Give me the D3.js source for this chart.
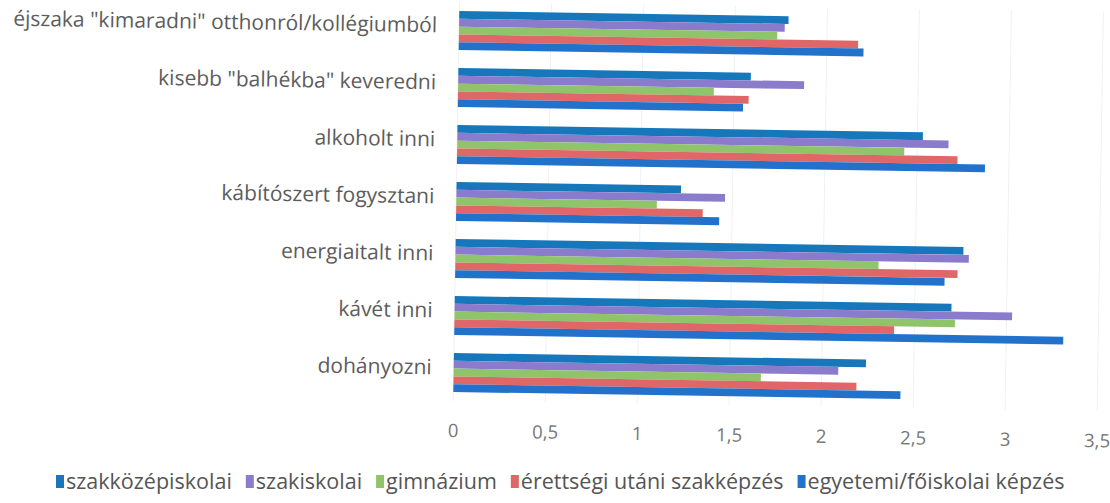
<!DOCTYPE html>
<html>
<head>
<meta charset="utf-8">
<script src="https://cdn.jsdelivr.net/npm/d3@7"></script>
<style>
  html, body { margin: 0; padding: 0; background: #ffffff; }
  svg { display: block; }
</style>
</head>
<body>
<svg id="chart" width="1110" height="503"></svg>
<script>
// ---- data ----
const categories = [
  'éjszaka "kimaradni" otthonról/kollégiumból',
  'kisebb "balhékba" keveredni',
  'alkoholt inni',
  'kábítószert fogysztani',
  'energiaitalt inni',
  'kávét inni',
  'dohányozni'
];
const seriesNames = [
  'szakközépiskolai',
  'szakiskolai',
  'gimnázium',
  'érettségi utáni szakképzés',
  'egyetemi/főiskolai képzés'
];
const szakkozepiskolai = [1.79, 1.59, 2.53, 1.22, 2.76, 2.70, 2.24];
const szakiskolai      = [1.77, 1.88, 2.67, 1.46, 2.79, 3.03, 2.09];
const gimnazium        = [1.73, 1.39, 2.43, 1.09, 2.30, 2.72, 1.67];
const erettsegiUtani   = [2.17, 1.58, 2.72, 1.34, 2.73, 2.39, 2.19];
const egyetemi         = [2.20, 1.55, 2.87, 1.43, 2.66, 3.31, 2.43];
const seriesValues = [szakkozepiskolai, szakiskolai, gimnazium, erettsegiUtani, egyetemi];
const tickValues = [0, 0.5, 1, 1.5, 2, 2.5, 3, 3.5];
const tickLabels = ['0', '0,5', '1', '1,5', '2', '2,5', '3', '3,5'];
const colors = ['#1678bb', '#8a7bcc', '#8fc46b', '#e06767', '#2272cc'];

// ---- layout ----
const svg = d3.select('#chart');
const root = svg.append('g').attr('transform', 'rotate(0.9, 455, 220)');

const x = d3.scaleLinear().domain([0, 3.5]).range([456, 1100]);
const y = d3.scaleBand().domain(categories).range([2, 401])
  .paddingInner(0.316).paddingOuter(0.158);
const yInner = d3.scaleBand().domain(seriesNames).range([0, y.bandwidth()]).padding(0);

const FONT = '"Open Sans", Lato, sans-serif';

// gridlines
root.append('g')
  .selectAll('line')
  .data(tickValues)
  .join('line')
  .attr('x1', d => x(d)).attr('x2', d => x(d))
  .attr('y1', 2).attr('y2', 401)
  .attr('stroke', '#f1f1f1').attr('stroke-width', 1);

// bars
const groups = root.append('g')
  .selectAll('g')
  .data(categories)
  .join('g')
  .attr('transform', c => `translate(0,${y(c)})`);

groups.selectAll('rect')
  .data((c, ci) => seriesNames.map((s, si) => ({ s, si, v: seriesValues[si][ci] })))
  .join('rect')
  .attr('x', x(0))
  .attr('y', d => yInner(d.s))
  .attr('width', d => x(d.v) - x(0))
  .attr('height', yInner.bandwidth())
  .attr('fill', d => colors[d.si]);

// category axis (labels only)
const yAxis = d3.axisLeft(y).tickSize(0).tickPadding(0);
const yg = root.append('g').attr('transform', 'translate(434,0)').call(yAxis);
yg.select('.domain').remove();
yg.selectAll('text')
  .attr('font-family', FONT)
  .attr('font-size', 21)
  .attr('fill', '#5c5c5c')
  .attr('dy', '0.1em');

// value axis (labels only)
const xAxis = d3.axisBottom(x).tickValues(tickValues)
  .tickFormat((d, i) => tickLabels[i]).tickSize(0).tickPadding(0);
const xg = root.append('g').attr('transform', 'translate(0,424)').call(xAxis);
xg.select('.domain').remove();
xg.selectAll('text')
  .attr('font-family', FONT)
  .attr('font-size', 18.5)
  .attr('fill', '#777777');

// legend (not rotated)
const legend = svg.append('g').attr('transform', 'translate(56,489)');
let lx = 0;
seriesNames.forEach((name, i) => {
  const item = legend.append('g').attr('transform', `translate(${lx},0)`);
  item.append('rect').attr('x', 0).attr('y', -14).attr('width', 8).attr('height', 13)
    .attr('fill', colors[i]);
  const t = item.append('text').attr('x', 10).attr('y', 0)
    .attr('font-family', FONT).attr('font-size', 21.5).attr('fill', '#555555')
    .text(name);
  lx += 10 + t.node().getComputedTextLength() + 14;
});
</script>
</body>
</html>
